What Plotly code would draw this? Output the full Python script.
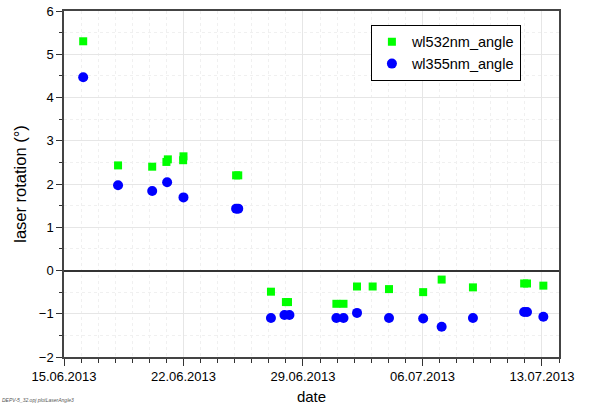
import plotly.graph_objects as go

green_dates = ["2013-06-16 03:00", "2013-06-18 04:00", "2013-06-20 04:00", "2013-06-21 00:00",
               "2013-06-21 02:00", "2013-06-21 23:30", "2013-06-22 00:00", "2013-06-25 02:00",
               "2013-06-25 05:00", "2013-06-27 03:00", "2013-06-28 00:00", "2013-06-28 03:00",
               "2013-06-30 23:00", "2013-07-01 09:00", "2013-07-02 04:00", "2013-07-03 02:00",
               "2013-07-04 01:00", "2013-07-06 01:00", "2013-07-07 03:00", "2013-07-08 23:00",
               "2013-07-11 23:00", "2013-07-12 03:00", "2013-07-13 02:00"]
green_vals = [5.30, 2.43, 2.40, 2.51, 2.57, 2.55, 2.64, 2.20, 2.20, -0.49, -0.73, -0.73,
              -0.77, -0.77, -0.37, -0.37, -0.43, -0.50, -0.21, -0.39, -0.30, -0.30, -0.35]

blue_dates = ["2013-06-16 03:00", "2013-06-18 04:00", "2013-06-20 04:00", "2013-06-21 01:00",
              "2013-06-22 00:00", "2013-06-25 02:00", "2013-06-25 05:00", "2013-06-27 03:00",
              "2013-06-27 22:00", "2013-06-28 05:00", "2013-06-30 23:00", "2013-07-01 09:00",
              "2013-07-02 04:00", "2013-07-04 01:00", "2013-07-06 01:00", "2013-07-07 03:00",
              "2013-07-08 23:00", "2013-07-11 23:00", "2013-07-12 03:00", "2013-07-13 02:00"]
blue_vals = [4.47, 1.97, 1.84, 2.04, 1.69, 1.43, 1.43, -1.10, -1.03, -1.03, -1.10, -1.10,
             -0.98, -1.10, -1.11, -1.30, -1.10, -0.96, -0.96, -1.07]

x_tick_vals = ["2013-06-15", "2013-06-22", "2013-06-29", "2013-07-06", "2013-07-13"]
x_tick_text = ["15.06.2013", "22.06.2013", "29.06.2013", "06.07.2013", "13.07.2013"]

FONT = "Liberation Sans, Arial, sans-serif"

fig = go.Figure()
fig.add_trace(go.Scatter(x=green_dates, y=green_vals, mode="markers", name="wl532nm_angle",
                         marker=dict(symbol="square", size=8, color="#00ff00")))
fig.add_trace(go.Scatter(x=blue_dates, y=blue_vals, mode="markers", name="wl355nm_angle",
                         marker=dict(symbol="circle", size=10, color="#0000ff")))

fig.update_layout(
    width=595, height=407,
    margin=dict(l=64, r=36, t=11, b=50, autoexpand=False),
    paper_bgcolor="white", plot_bgcolor="white",
    font=dict(family=FONT, size=13, color="black"),
    showlegend=True,
    legend=dict(x=0.62, y=0.96, xanchor="left", yanchor="top",
                bordercolor="black", borderwidth=1, bgcolor="white",
                font=dict(size=14.5), itemwidth=30,
                tracegroupgap=0),
)

fig.update_xaxes(
    type="date", automargin=False, ticklabeloverflow="allow",
    range=["2013-06-15 00:00", "2013-07-14 00:00"],
    tickmode="array", tickvals=x_tick_vals, ticktext=x_tick_text,
    ticks="outside", ticklen=7, tickcolor="#333", tickwidth=1,
    showline=True, linecolor="#444", linewidth=1.5, mirror=True,
    showgrid=True, gridcolor="#e6e6e6", gridwidth=1,
    zeroline=False,
    minor=dict(dtick=86400000, tick0="2013-06-15", ticks="outside", ticklen=4,
               tickcolor="#333", showgrid=True, gridcolor="#f0f0f0", griddash="dot"),
    title=dict(text="date", font=dict(size=15), standoff=8),
    tickfont=dict(size=13),
)
fig.update_yaxes(
    automargin=False, ticklabeloverflow="allow",
    range=[-2, 6], dtick=1, tick0=0,
    ticks="outside", ticklen=6, tickcolor="#333", tickwidth=1,
    showline=True, linecolor="#444", linewidth=1.5, mirror=True,
    showgrid=True, gridcolor="#e6e6e6", gridwidth=1,
    zeroline=True, zerolinecolor="#333", zerolinewidth=1.5,
    minor=dict(dtick=0.5, ticks="outside", ticklen=3, tickcolor="#333",
               showgrid=True, gridcolor="#f0f0f0", griddash="dot"),
    title=dict(text="laser rotation (°)", font=dict(size=16.5), standoff=8),
    tickfont=dict(size=13),
)

fig.add_annotation(text="<i>DEPV-5_32.opj plotLaserAngle3</i>", xref="paper", yref="paper",
                   x=-0.129, y=-0.14, xanchor="left", yanchor="bottom", showarrow=False,
                   font=dict(size=5, color="#555"))

fig.write_html("out.html", config={"displayModeBar": False},
               post_script="document.body.style.margin='0';")
